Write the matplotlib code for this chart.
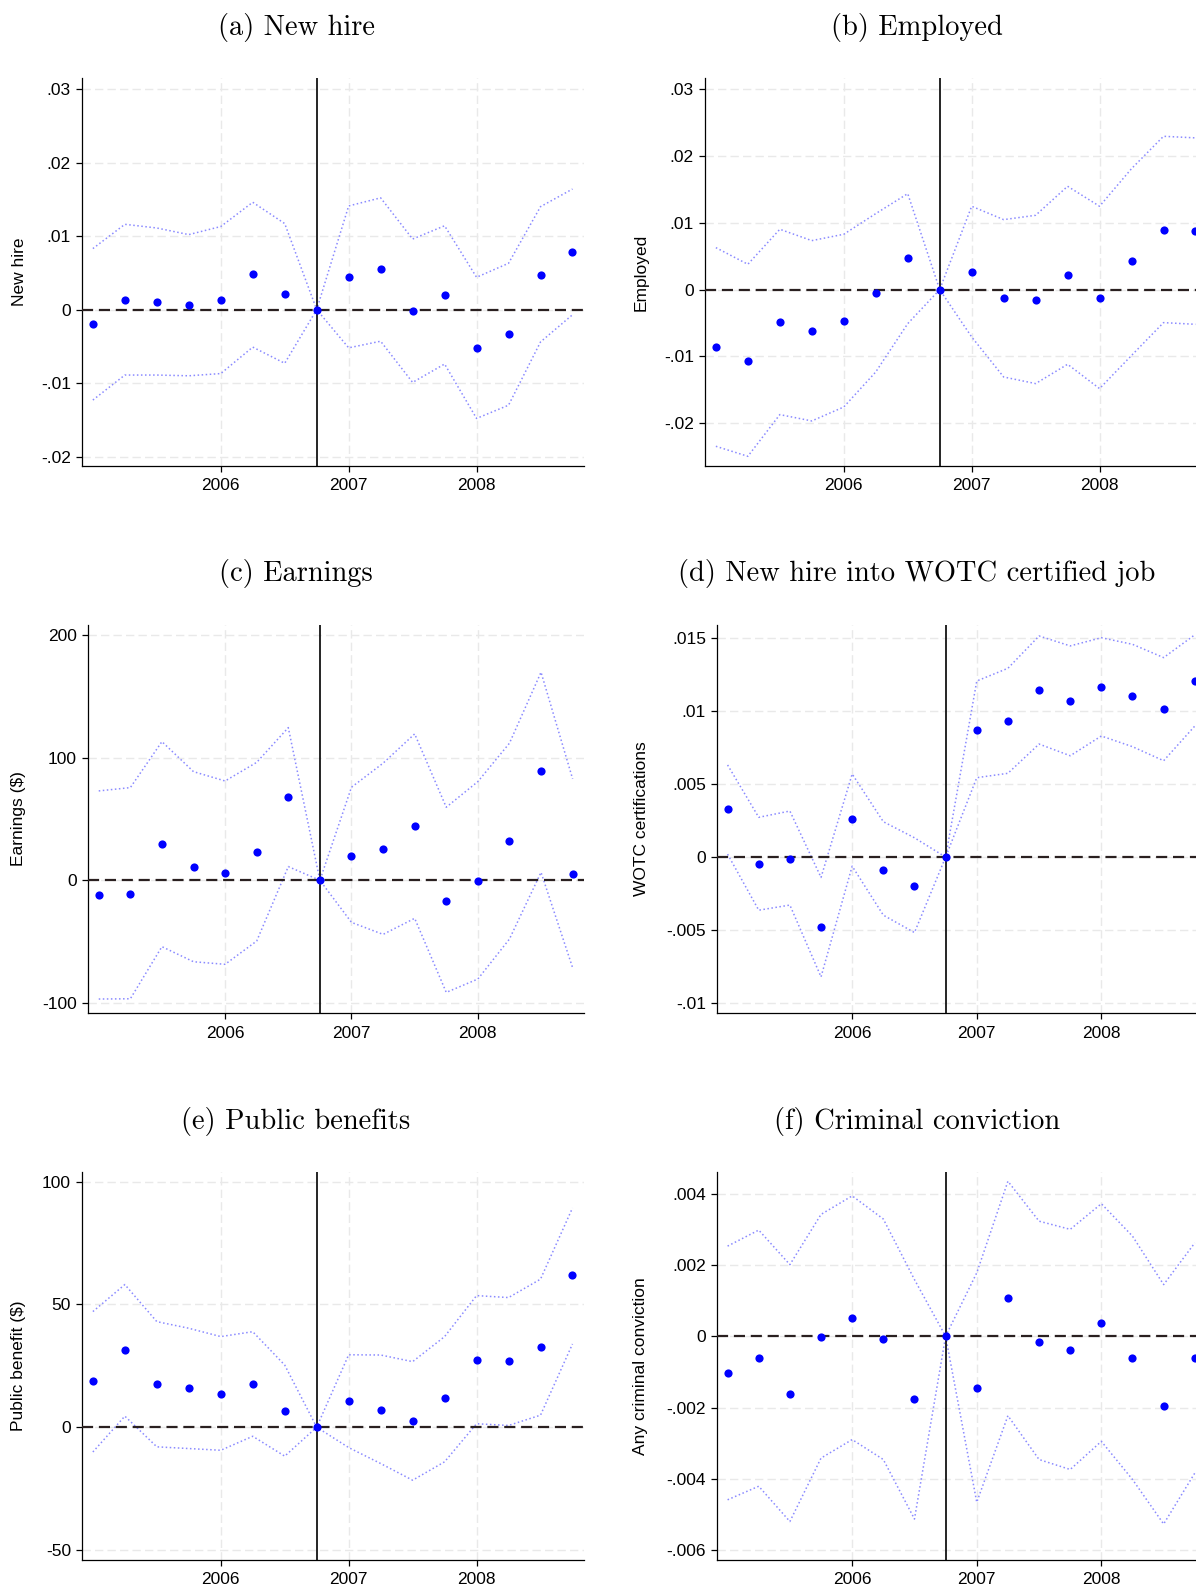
import matplotlib
matplotlib.use('Agg')
import matplotlib.pyplot as plt

plt.rcParams['font.family'] = ['Liberation Sans', 'DejaVu Sans']

# quarters (event time) and the reform quarter
quarters = [2005.0, 2005.25, 2005.5, 2005.75, 2006.0, 2006.25, 2006.5, 2006.75,
            2007.0, 2007.25, 2007.5, 2007.75, 2008.0, 2008.25, 2008.5, 2008.75]
event_q = 2006.75
year_ticks = [2006, 2007, 2008]

# (a) New hire
newhire = [-0.0020, 0.00127, 0.00109, 0.00059, 0.00127, 0.0048, 0.00218, 0.0,
           0.0044, 0.00549, -0.00023, 0.0020, -0.00526, -0.00335, 0.00467, 0.00789]
newhire_hi = [0.0083, 0.0116, 0.0111, 0.0102, 0.0113, 0.0146, 0.0117, 0.0,
              0.0141, 0.0152, 0.0096, 0.0114, 0.0044, 0.0063, 0.0140, 0.0164]
newhire_lo = [-0.0123, -0.0089, -0.0089, -0.0090, -0.0087, -0.0051, -0.0073, 0.0,
              -0.0052, -0.0043, -0.0099, -0.0074, -0.0148, -0.0130, -0.0044, -0.0007]

# (b) Employed
employed = [-0.00858, -0.01062, -0.00484, -0.00618, -0.00474, -0.00045, 0.00469, 0.0,
            0.00259, -0.0013, -0.00155, 0.00224, -0.0013, 0.00424, 0.00898, 0.00883]
employed_hi = [0.00628, 0.00379, 0.00903, 0.00733, 0.00828, 0.01137, 0.01436, 0.0,
               0.01247, 0.01047, 0.01112, 0.01546, 0.01247, 0.0181, 0.02294, 0.0227]
employed_lo = [-0.02344, -0.02494, -0.0187, -0.01965, -0.01756, -0.01232, -0.00509, 0.0,
               -0.00708, -0.01307, -0.01406, -0.01117, -0.01481, -0.00985, -0.00494, -0.00519]

# (c) Earnings
earnings = [-12.0, -11.2, 29.9, 10.6, 6.0, 22.8, 68.3, 0.0,
            20.1, 25.3, 44.3, -16.9, -0.5, 31.8, 88.9, 5.2]
earnings_hi = [72.9, 75.6, 113.1, 88.6, 81.0, 96.2, 124.5, 0.0,
               75.9, 95.5, 119.4, 59.6, 80.5, 111.8, 169.7, 82.7]
earnings_lo = [-96.8, -96.6, -54.1, -66.4, -68.5, -49.5, 11.2, 0.0,
               -34.3, -44.1, -31.0, -91.4, -80.5, -47.9, 6.5, -71.3]

# (d) New hire into WOTC certified job
wotc = [0.00326, -0.00048, -0.00011, -0.00481, 0.00258, -0.00089, -0.00198, 0.0,
        0.00869, 0.00928, 0.01143, 0.01067, 0.01163, 0.01104, 0.0101, 0.01207]
wotc_hi = [0.0063, 0.00272, 0.00315, -0.00139, 0.00568, 0.00242, 0.00132, 0.0,
           0.01204, 0.01291, 0.01512, 0.01444, 0.0150, 0.01455, 0.01364, 0.0152]
wotc_lo = [0.0002, -0.00363, -0.00328, -0.00819, -0.00062, -0.00397, -0.00516, 0.0,
           0.00543, 0.00573, 0.00773, 0.00693, 0.00828, 0.00755, 0.00659, 0.00896]

# (e) Public benefits
benefit = [18.8, 31.3, 17.6, 15.9, 13.7, 17.7, 6.5, 0.0,
           10.5, 6.9, 2.4, 11.7, 27.3, 26.8, 32.5, 61.8]
benefit_hi = [47.1, 58.1, 43.0, 40.3, 36.9, 38.9, 25.3, 0.0,
              29.5, 29.4, 26.7, 36.9, 53.6, 52.8, 60.3, 89.3]
benefit_lo = [-10.1, 4.5, -8.0, -8.7, -9.4, -3.7, -11.8, 0.0,
              -8.3, -14.8, -21.6, -14.1, 1.4, 0.7, 4.9, 33.9]

# (f) Criminal conviction
crime = [-0.00104, -0.00061, -0.00161, -0.00002, 0.00052, -0.00008, -0.00177, 0.0,
         -0.00145, 0.00106, -0.00015, -0.00039, 0.00037, -0.00061, -0.00195, -0.0006]
crime_hi = [0.00253, 0.00298, 0.00201, 0.00342, 0.00394, 0.00329, 0.00159, 0.0,
            0.00178, 0.00435, 0.00323, 0.0030, 0.00372, 0.00281, 0.00145, 0.00262]
crime_lo = [-0.00459, -0.00421, -0.0052, -0.00342, -0.0029, -0.00346, -0.00513, 0.0,
            -0.00466, -0.00223, -0.00346, -0.00374, -0.00295, -0.00402, -0.00527, -0.00384]

titles = ['(a) New hire', '(b) Employed', '(c) Earnings',
          '(d) New hire into WOTC certified job', '(e) Public benefits', '(f) Criminal conviction']
ylabels = ['New hire', 'Employed', 'Earnings ($)', 'WOTC certifications',
           'Public benefit ($)', 'Any criminal conviction']
yticks = [[-0.02, -0.01, 0, 0.01, 0.02, 0.03],
          [-0.02, -0.01, 0, 0.01, 0.02, 0.03],
          [-100, 0, 100, 200],
          [-0.01, -0.005, 0, 0.005, 0.01, 0.015],
          [-50, 0, 50, 100],
          [-0.006, -0.004, -0.002, 0, 0.002, 0.004]]
ylims = [(-0.02127, 0.0315), (-0.02639, 0.03166), (-108.2, 208.2),
         (-0.01066, 0.01587), (-54.1, 103.95), (-0.00628, 0.00461)]
series = [(newhire, newhire_hi, newhire_lo), (employed, employed_hi, employed_lo),
          (earnings, earnings_hi, earnings_lo), (wotc, wotc_hi, wotc_lo),
          (benefit, benefit_hi, benefit_lo), (crime, crime_hi, crime_lo)]


def stata_fmt(v):
    # Stata drops the leading zero: .01, -.005
    if v == 0:
        return '0'
    s = ('%g' % v)
    return s.replace('0.', '.')


W, H = 1196, 1588
# axes boxes in pixels: left, top, width (height is the same everywhere)
boxes = [(82, 78, 502), (705, 78, 502),
         (88, 625, 496), (717, 625, 489),
         (82, 1172, 502), (717, 1172, 489)]
ax_h = 388
title_y = [28, 28, 574, 574, 1121, 1121]
title_x = [296, 917]
ylabel_x = [19, 641]

fig = plt.figure(figsize=(W / 100, H / 100), dpi=100)

for i in range(6):
    left, top, width = boxes[i]
    ax = fig.add_axes([left / W, 1 - (top + ax_h) / H, width / W, ax_h / H])
    b, hi, lo = series[i]

    ax.set_xlim(2004.915, 2008.84)
    ax.set_ylim(*ylims[i])
    ax.set_xticks(year_ticks)
    ax.set_xticklabels([str(y) for y in year_ticks])
    ax.set_yticks(yticks[i])
    ax.set_yticklabels([stata_fmt(v) for v in yticks[i]])

    ax.grid(True, color='#e9e9e9', linestyle=(0, (6, 3)), lw=1.0, zorder=0)
    ax.set_axisbelow(True)

    ax.plot(quarters, hi, linestyle=':', color='#8a8aff', lw=1.1, zorder=2)
    ax.plot(quarters, lo, linestyle=':', color='#8a8aff', lw=1.1, zorder=2)
    ax.axhline(0, color='#2a2020', lw=1.6, dashes=(5, 2.6), zorder=3)
    ax.axvline(event_q, color='black', lw=1.2, zorder=3)
    ax.plot(quarters, b, 'o', color='#0000ff', ms=5.9, mew=0, zorder=5)

    for s in ['top', 'right']:
        ax.spines[s].set_visible(False)
    for s in ['left', 'bottom']:
        ax.spines[s].set_linewidth(0.9)
    ax.tick_params(axis='y', direction='out', length=4.5, width=0.9, labelsize=12.5, pad=3.5)
    ax.tick_params(axis='x', direction='out', length=4.5, width=0.9, labelsize=12.5, pad=4.5)

    col = i % 2
    fig.text(title_x[col] / W, 1 - title_y[i] / H, titles[i], family='cmr10',
             fontsize=20.5, ha='center', va='center')
    fig.text(ylabel_x[col] / W, 1 - (top + ax_h / 2) / H, ylabels[i], rotation=90,
             fontsize=12.5, ha='center', va='center')

plt.savefig('out.png', dpi=100)
